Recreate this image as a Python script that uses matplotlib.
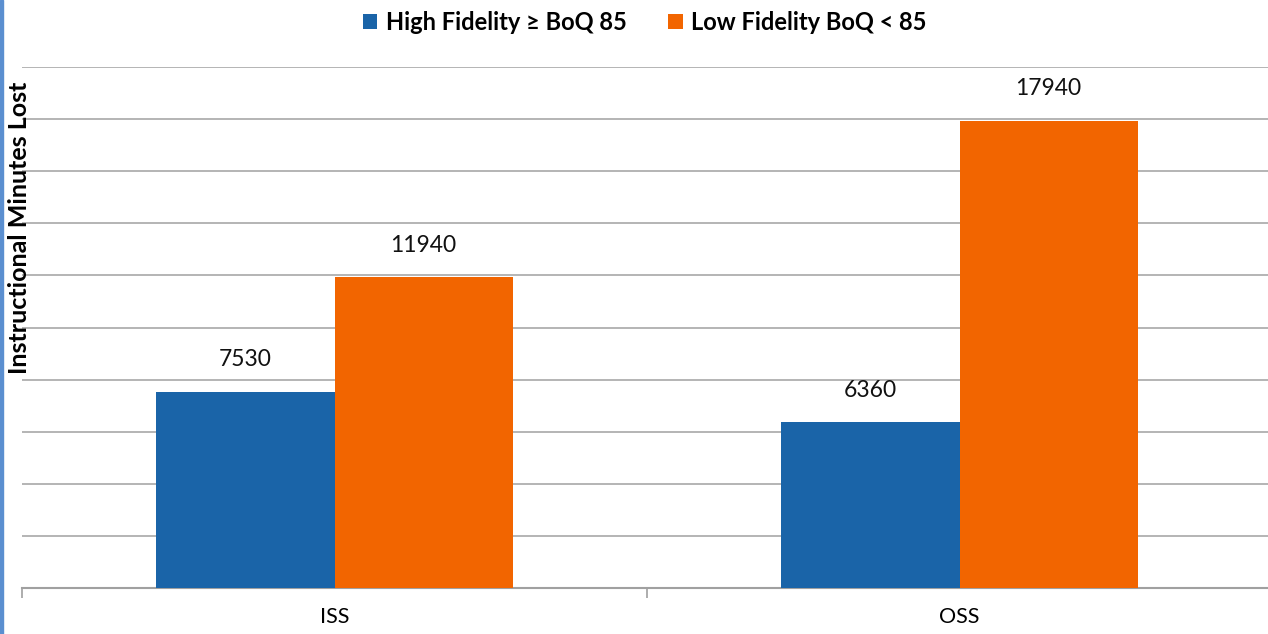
import matplotlib
matplotlib.use("Agg")
import matplotlib.pyplot as plt
import numpy as np
from matplotlib.patches import Rectangle

categories = ["ISS", "OSS"]
series_names = ["High Fidelity \u2265 BoQ 85", "Low Fidelity BoQ < 85"]
high_fidelity = [7530, 6360]
low_fidelity = [11940, 17940]
colors = ["#1a64a8", "#f26500"]

plt.rcParams['font.family'] = ['Lato', 'DejaVu Sans']

W, H = 1268, 634
fig = plt.figure(figsize=(W / 100, H / 100), dpi=100)
ax = fig.add_axes([22 / W, 1 - 588 / H, 1250 / W, (588 - 67) / H])

x = np.arange(len(categories))
bw = 0.285
b1 = ax.bar(x - bw / 2, high_fidelity, bw, color=colors[0], label=series_names[0], zorder=3)
b2 = ax.bar(x + bw / 2, low_fidelity, bw, color=colors[1], label=series_names[1], zorder=3)

for bars, vals in ((b1, high_fidelity), (b2, low_fidelity)):
    for r, v in zip(bars, vals):
        ax.annotate(f"{v}", (r.get_x() + r.get_width() / 2, v), xytext=(0, 23),
                    textcoords="offset points", ha="center", va="center", fontsize=16.5, color="#111111")

ax.set_xlim(-0.5, 1.5)
ax.set_ylim(0, 20000)
ax.set_yticks(np.arange(0, 20001, 2000))
ax.yaxis.grid(True, color="#a0a0a0", linewidth=1.1, zorder=0)
ax.tick_params(axis="y", length=0, labelleft=False)
ax.set_xticks(x)
ax.set_xticklabels(categories, fontsize=15.5)
ax.set_xticks([-0.5, 0.5, 1.5], minor=True)
ax.tick_params(axis="x", which="major", length=0, pad=14)
ax.tick_params(axis="x", which="minor", length=7, width=1.2, color="#a0a0a0")
for s in ["top", "right", "left"]:
    ax.spines[s].set_visible(False)
ax.spines["bottom"].set_color("#a0a0a0")
ax.spines["bottom"].set_linewidth(1.5)

fig.text(20 / W, 1 - 228 / H, "Instructional Minutes Lost", rotation=90, ha="center", va="center",
         fontsize=18, fontweight="bold")

leg = fig.legend(handles=[b1, b2], labels=series_names, loc="center", bbox_to_anchor=(645 / W, 1 - 22 / H),
                 ncol=2, frameon=False, prop={"weight": "bold", "size": 17}, handlelength=0.6,
                 handleheight=0.6, handletextpad=0.38, columnspacing=1.75)

fig.add_artist(Rectangle((0, 0), 2.5 / W, 1, transform=fig.transFigure, color="#5b8fd0", zorder=10))

fig.savefig("out.png", dpi=100)
